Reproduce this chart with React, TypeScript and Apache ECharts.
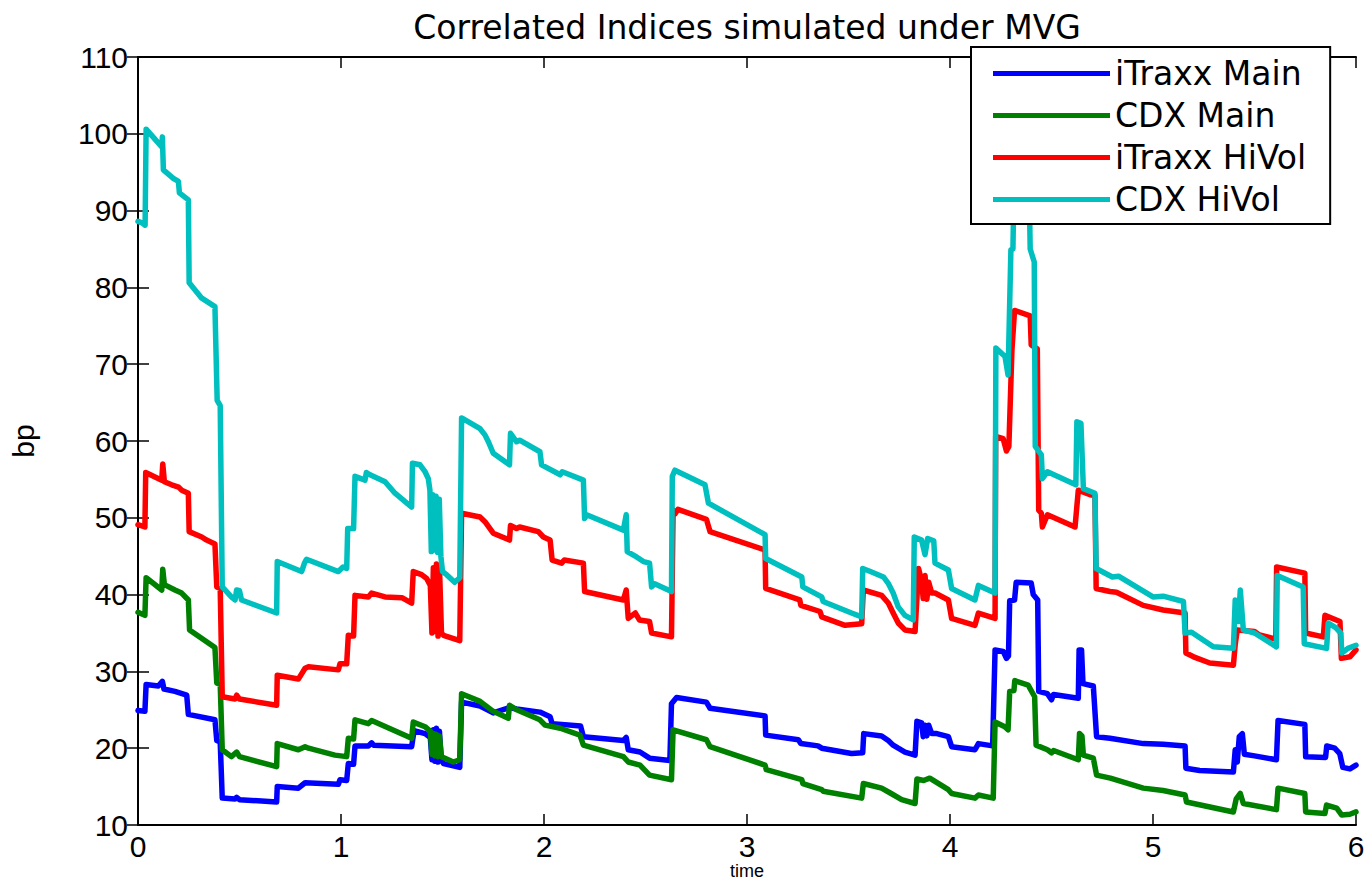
import React, { useEffect, useRef } from "react";
import * as echarts from "echarts";

// Simulated index spreads (bp) against time (years): [time, spread]
const itraxxMain: [number, number][] = [
  [0, 24.9], [0.034, 24.8], [0.04, 28.3], [0.1, 28.1], [0.12, 28.7], [0.128, 27.7], [0.182, 27.4], [0.24, 26.9],
  [0.248, 24.4], [0.379, 23.7], [0.388, 21.0], [0.405, 20.8], [0.415, 13.5], [0.478, 13.4], [0.486, 13.6], [0.5, 13.3],
  [0.683, 13.0], [0.686, 15.0], [0.79, 14.8], [0.823, 15.5], [0.987, 15.3], [0.995, 15.9], [1.028, 15.8], [1.036, 18.0],
  [1.062, 17.9], [1.069, 20.3], [1.135, 20.3], [1.151, 20.7], [1.16, 20.4], [1.348, 20.2], [1.36, 22.3], [1.414, 21.9],
  [1.44, 21.4], [1.448, 18.5], [1.455, 22.4], [1.462, 18.3], [1.47, 22.6], [1.478, 18.2], [1.485, 22.2], [1.493, 18.6],
  [1.505, 18.0], [1.585, 17.5], [1.594, 26.0], [1.685, 25.5], [1.75, 24.6], [1.83, 25.3], [1.865, 25.1], [1.98, 24.7],
  [2.03, 24.1], [2.04, 23.2], [2.18, 22.9], [2.194, 21.5], [2.391, 21.0], [2.405, 21.4], [2.415, 19.8], [2.473, 19.5],
  [2.52, 18.7], [2.62, 18.4], [2.628, 25.8], [2.653, 26.6], [2.8, 26.0], [2.818, 25.2], [3.089, 24.2], [3.092, 21.7],
  [3.253, 21.1], [3.265, 20.6], [3.35, 20.3], [3.368, 20.0], [3.515, 19.3], [3.57, 19.4], [3.575, 21.9], [3.663, 21.6],
  [3.696, 21.0], [3.72, 20.4], [3.745, 20.0], [3.778, 19.5], [3.828, 19.1], [3.837, 23.5], [3.86, 23.3], [3.868, 21.5],
  [3.877, 23.0], [3.886, 21.6], [3.895, 23.0], [3.91, 21.9], [3.935, 21.9], [3.992, 21.5], [4.008, 20.2], [4.123, 19.8],
  [4.14, 20.6], [4.21, 20.3], [4.222, 32.8], [4.262, 32.6], [4.278, 31.7], [4.288, 32.0], [4.294, 39.2], [4.318, 39.3],
  [4.326, 41.6], [4.4, 41.5], [4.41, 40.0], [4.432, 39.3], [4.437, 27.4], [4.48, 27.1], [4.5, 26.3], [4.51, 27.0],
  [4.632, 26.5], [4.636, 32.8], [4.648, 32.8], [4.655, 28.4], [4.706, 28.1], [4.722, 21.5], [4.788, 21.3], [4.952, 20.6],
  [5.05, 20.5], [5.158, 20.3], [5.162, 17.4], [5.23, 17.1], [5.396, 16.9], [5.405, 19.8], [5.415, 18.2], [5.425, 21.5],
  [5.44, 21.9], [5.45, 19.2], [5.5, 19.0], [5.608, 18.5], [5.616, 23.6], [5.748, 23.1], [5.752, 18.9], [5.85, 18.8],
  [5.856, 20.3], [5.895, 20.0], [5.92, 19.3], [5.935, 17.5], [5.97, 17.3], [6.0, 17.8],
];

const cdxMain: [number, number][] = [
  [0, 37.7], [0.034, 37.3], [0.04, 42.2], [0.117, 40.6], [0.122, 43.3], [0.13, 41.3], [0.182, 40.6], [0.215, 40.2],
  [0.248, 39.3], [0.254, 35.4], [0.379, 33.1], [0.388, 28.5], [0.405, 28.3], [0.415, 19.8], [0.46, 18.9], [0.486, 19.5],
  [0.5, 18.9], [0.683, 17.6], [0.686, 20.6], [0.79, 19.8], [0.823, 20.2], [0.84, 20.0], [0.97, 19.1], [1.028, 18.9],
  [1.036, 21.3], [1.062, 21.2], [1.069, 23.7], [1.135, 23.2], [1.151, 23.6], [1.348, 21.3], [1.356, 23.4], [1.414, 22.8],
  [1.44, 22.2], [1.448, 19.2], [1.455, 21.9], [1.462, 19.0], [1.47, 21.8], [1.478, 18.9], [1.485, 21.6], [1.495, 18.9],
  [1.512, 18.7], [1.553, 18.2], [1.585, 18.5], [1.594, 27.1], [1.685, 26.1], [1.75, 24.8], [1.824, 23.9], [1.83, 25.6],
  [1.865, 25.0], [1.98, 23.7], [2.005, 23.0], [2.08, 22.6], [2.177, 21.7], [2.194, 20.4], [2.391, 18.9], [2.415, 18.2],
  [2.473, 17.8], [2.52, 16.5], [2.628, 15.9], [2.636, 22.4], [2.8, 21.1], [2.818, 20.2], [3.089, 17.8], [3.095, 17.2],
  [3.27, 15.9], [3.275, 15.4], [3.368, 14.6], [3.375, 14.4], [3.565, 13.5], [3.573, 15.4], [3.663, 14.8], [3.71, 14.1],
  [3.762, 13.3], [3.828, 12.8], [3.837, 16.0], [3.87, 15.8], [3.9, 16.1], [3.992, 14.6], [4.008, 14.1], [4.123, 13.5],
  [4.14, 13.9], [4.213, 13.5], [4.222, 23.4], [4.27, 22.8], [4.286, 22.4], [4.294, 27.4], [4.315, 27.5], [4.319, 28.8],
  [4.385, 28.2], [4.417, 26.7], [4.424, 20.4], [4.48, 19.8], [4.5, 19.4], [4.51, 19.7], [4.632, 18.5], [4.638, 21.9],
  [4.65, 21.6], [4.657, 19.1], [4.706, 18.7], [4.722, 16.5], [4.79, 16.1], [4.952, 14.8], [5.05, 14.5], [5.158, 13.9],
  [5.165, 13.0], [5.396, 11.7], [5.41, 13.4], [5.43, 14.1], [5.445, 12.8], [5.608, 12.0], [5.616, 14.8], [5.748, 14.1],
  [5.752, 11.7], [5.847, 11.5], [5.855, 12.6], [5.905, 12.2], [5.93, 11.3], [5.97, 11.4], [6.0, 11.7],
];

const itraxxHiVol: [number, number][] = [
  [0, 49.1], [0.034, 48.8], [0.038, 55.9], [0.117, 54.9], [0.122, 57.0], [0.13, 54.7], [0.166, 54.3], [0.2, 54.0],
  [0.215, 53.6], [0.248, 53.2], [0.252, 48.2], [0.314, 47.5], [0.338, 47.1], [0.379, 46.6], [0.388, 41.0], [0.405, 40.8],
  [0.415, 26.7], [0.478, 26.4], [0.486, 26.9], [0.5, 26.4], [0.683, 25.6], [0.686, 29.5], [0.79, 29.0], [0.823, 30.4],
  [0.84, 30.6], [0.987, 30.2], [0.995, 31.0], [1.028, 31.0], [1.036, 34.7], [1.062, 34.6], [1.069, 39.9], [1.135, 39.7],
  [1.151, 40.2], [1.217, 39.7], [1.3, 39.6], [1.348, 38.9], [1.356, 43.0], [1.397, 42.6], [1.422, 42.1], [1.44, 41.2],
  [1.448, 35.0], [1.455, 43.5], [1.462, 35.2], [1.47, 44.0], [1.478, 34.6], [1.485, 43.6], [1.495, 35.0], [1.505, 34.7],
  [1.585, 34.0], [1.594, 50.6], [1.685, 50.1], [1.709, 49.5], [1.75, 48.0], [1.83, 47.1], [1.835, 49.0], [1.865, 48.6],
  [1.88, 48.8], [1.972, 48.2], [1.997, 47.5], [2.03, 47.1], [2.04, 44.5], [2.087, 44.1], [2.1, 44.5], [2.194, 44.1],
  [2.2, 40.4], [2.391, 39.3], [2.405, 40.6], [2.415, 36.9], [2.45, 37.6], [2.47, 36.7], [2.52, 36.5], [2.53, 35.0],
  [2.628, 34.5], [2.636, 51.0], [2.645, 50.5], [2.66, 51.1], [2.8, 49.8], [2.818, 48.2], [3.089, 45.8], [3.092, 40.8],
  [3.26, 39.3], [3.265, 38.6], [3.36, 37.8], [3.368, 37.1], [3.483, 36.0], [3.565, 36.2], [3.573, 40.6], [3.663, 39.9],
  [3.696, 38.9], [3.72, 37.6], [3.745, 36.3], [3.778, 35.4], [3.828, 35.2], [3.845, 43.4], [3.86, 41.8], [3.868, 39.5],
  [3.877, 42.5], [3.886, 39.4], [3.895, 41.6], [3.91, 40.2], [3.926, 40.2], [3.992, 39.3], [4.008, 36.9], [4.123, 36.0],
  [4.14, 37.6], [4.222, 36.9], [4.225, 60.6], [4.262, 60.3], [4.278, 58.7], [4.29, 59.3], [4.305, 71.8], [4.318, 77.0],
  [4.395, 76.3], [4.4, 72.5], [4.43, 72.0], [4.437, 51.0], [4.45, 50.6], [4.455, 48.8], [4.48, 50.4], [4.616, 48.8],
  [4.632, 53.6], [4.69, 53.0], [4.714, 52.9], [4.72, 40.8], [4.788, 40.4], [4.82, 40.3], [4.952, 38.6], [5.05, 38.0],
  [5.158, 37.6], [5.162, 32.4], [5.2, 31.9], [5.28, 31.1], [5.396, 30.8], [5.405, 33.5], [5.415, 35.4], [5.5, 35.2],
  [5.52, 34.8], [5.605, 34.2], [5.609, 43.6], [5.748, 42.8], [5.752, 35.0], [5.839, 34.5], [5.847, 37.3], [5.921, 36.5],
  [5.928, 31.7], [5.97, 31.9], [6.0, 32.8],
];

const cdxHiVol: [number, number][] = [
  [0, 88.6], [0.02, 88.4], [0.035, 88.1], [0.04, 100.6], [0.117, 98.3], [0.12, 99.6], [0.125, 95.3], [0.174, 94.2],
  [0.199, 93.8], [0.204, 92.3], [0.248, 91.4], [0.252, 80.6], [0.314, 78.6], [0.379, 77.5], [0.39, 65.3], [0.405, 64.6],
  [0.415, 41.0], [0.46, 39.7], [0.478, 39.3], [0.486, 40.6], [0.5, 40.5], [0.51, 39.3], [0.683, 37.6], [0.686, 44.3],
  [0.806, 43.0], [0.82, 44.1], [0.83, 44.6], [0.987, 43.0], [1.01, 43.6], [1.028, 43.4], [1.033, 48.6], [1.062, 48.6],
  [1.069, 55.4], [1.118, 54.9], [1.125, 55.9], [1.143, 55.6], [1.217, 54.7], [1.266, 53.2], [1.348, 51.4], [1.352, 57.1],
  [1.389, 56.9], [1.414, 56.0], [1.43, 55.1], [1.438, 53.6], [1.445, 45.6], [1.452, 53.0], [1.46, 45.8], [1.468, 52.8],
  [1.476, 45.5], [1.484, 52.4], [1.492, 45.0], [1.5, 43.0], [1.52, 42.6], [1.56, 41.6], [1.585, 42.2], [1.594, 63.0],
  [1.685, 61.6], [1.709, 60.8], [1.726, 59.9], [1.75, 58.4], [1.83, 56.9], [1.835, 61.0], [1.865, 59.9], [1.88, 60.1],
  [1.98, 58.6], [1.988, 56.9], [2.08, 55.6], [2.09, 56.0], [2.194, 54.9], [2.2, 49.9], [2.21, 50.4], [2.391, 48.4],
  [2.405, 50.4], [2.41, 45.6], [2.456, 44.9], [2.49, 44.3], [2.52, 44.1], [2.53, 41.0], [2.545, 41.4], [2.628, 40.4],
  [2.632, 55.4], [2.645, 56.2], [2.793, 54.3], [2.81, 51.9], [3.089, 47.8], [3.092, 44.7], [3.27, 42.3], [3.275, 41.0],
  [3.368, 39.7], [3.375, 39.1], [3.515, 37.6], [3.565, 37.1], [3.57, 43.4], [3.608, 43.0], [3.672, 42.3], [3.695, 41.5],
  [3.72, 40.2], [3.745, 38.4], [3.778, 37.3], [3.819, 36.7], [3.824, 47.5], [3.86, 47.1], [3.877, 45.2], [3.89, 47.3],
  [3.92, 47.0], [3.926, 44.1], [3.992, 43.2], [4.008, 40.8], [4.123, 39.3], [4.14, 41.2], [4.222, 40.2], [4.226, 72.1],
  [4.271, 71.0], [4.286, 68.6], [4.3, 84.9], [4.31, 85.0], [4.315, 93.0], [4.39, 93.0], [4.395, 85.0], [4.415, 83.3],
  [4.42, 59.3], [4.45, 58.2], [4.455, 55.1], [4.48, 56.0], [4.62, 54.3], [4.625, 62.5], [4.645, 62.3], [4.657, 53.8],
  [4.714, 53.2], [4.72, 43.4], [4.8, 42.3], [4.83, 42.4], [5.0, 39.7], [5.05, 39.8], [5.15, 39.1], [5.158, 35.0],
  [5.19, 35.1], [5.297, 33.2], [5.396, 33.0], [5.405, 39.3], [5.42, 36.5], [5.43, 40.6], [5.445, 35.4], [5.5, 35.0],
  [5.608, 33.2], [5.612, 42.5], [5.74, 41.0], [5.745, 33.6], [5.855, 33.0], [5.863, 36.3], [5.9, 35.7], [5.925, 35.0],
  [5.93, 32.4], [5.96, 33.0], [6.0, 33.4],
];

const seriesNames = ["iTraxx Main", "CDX Main", "iTraxx HiVol", "CDX HiVol"];
const seriesColors = ["#0000ff", "#008000", "#ff0000", "#00bfbf"];
const seriesData = [itraxxMain, cdxMain, itraxxHiVol, cdxHiVol];

const TICK_FONT = "Liberation Sans, Arial, Helvetica, sans-serif";
const WIDE_FONT = "DejaVu Sans, Verdana, sans-serif";

export default function App() {
  const ref = useRef<HTMLDivElement>(null);

  useEffect(() => {
    if (!ref.current) return;
    const chart = echarts.init(ref.current, undefined, { renderer: "svg" });

    const axisLine = { show: true, lineStyle: { color: "#000", width: 2 } };
    const tick = { show: true, inside: true, length: 11, lineStyle: { color: "#000", width: 1.5 } };

    chart.setOption({
      animation: false,
      backgroundColor: "#fff",
      grid: {
        left: 138,
        right: 12,
        top: 57,
        bottom: 57,
        containLabel: false,
        outerBoundsMode: "none",
      },
      graphic: [
        {
          type: "text",
          x: 747,
          y: 27,
          style: {
            text: "Correlated Indices simulated under MVG",
            fill: "#000",
            font: `33px ${WIDE_FONT}`,
            textAlign: "center",
            textVerticalAlign: "middle",
          },
        },
      ],
      legend: {
        orient: "vertical",
        left: 971,
        top: 47,
        icon: "rect",
        itemWidth: 117,
        itemHeight: 5,
        itemGap: 9,
        padding: [10, 24, 8, 22],
        backgroundColor: "#fff",
        borderColor: "#000",
        borderWidth: 2,
        borderRadius: 0,
        textStyle: { color: "#000", fontSize: 33, fontFamily: WIDE_FONT, lineHeight: 33 },
        data: seriesNames,
      },
      xAxis: [
        {
          type: "value",
          min: 0,
          max: 6,
          interval: 1,
          position: "bottom",
          axisLine,
          axisTick: tick,
          splitLine: { show: false },
          axisLabel: { color: "#000", fontSize: 30, fontFamily: TICK_FONT, margin: 8, lineHeight: 26 },
          name: "time",
          nameLocation: "middle",
          nameGap: 37,
          nameMoveOverlap: false,
          nameTextStyle: { color: "#000", fontSize: 18, fontFamily: TICK_FONT, lineHeight: 18 },
        },
        {
          type: "value",
          min: 0,
          max: 6,
          interval: 1,
          position: "top",
          axisLine,
          axisTick: tick,
          splitLine: { show: false },
          axisLabel: { show: false },
        },
      ],
      yAxis: [
        {
          type: "value",
          min: 10,
          max: 110,
          interval: 10,
          position: "left",
          axisLine,
          axisTick: tick,
          splitLine: { show: false },
          axisLabel: { color: "#000", fontSize: 30, fontFamily: TICK_FONT, margin: 10 },
          name: "bp",
          nameLocation: "middle",
          nameGap: 100,
          nameTextStyle: { color: "#000", fontSize: 30, fontFamily: TICK_FONT },
        },
        {
          type: "value",
          min: 10,
          max: 110,
          interval: 10,
          position: "right",
          axisLine,
          axisTick: tick,
          splitLine: { show: false },
          axisLabel: { show: false },
        },
      ],
      series: seriesData.map((data, i) => ({
        name: seriesNames[i],
        type: "line",
        xAxisIndex: 0,
        yAxisIndex: 0,
        data,
        showSymbol: false,
        symbol: "none",
        color: seriesColors[i],
        lineStyle: { color: seriesColors[i], width: 5.5, cap: "round", join: "round" },
        emphasis: { disabled: true },
      })),
    });

    return () => chart.dispose();
  }, []);

  return (
    <div
      ref={ref}
      style={{ position: "absolute", left: 0, top: 0, width: 1368, height: 882 }}
    />
  );
}
